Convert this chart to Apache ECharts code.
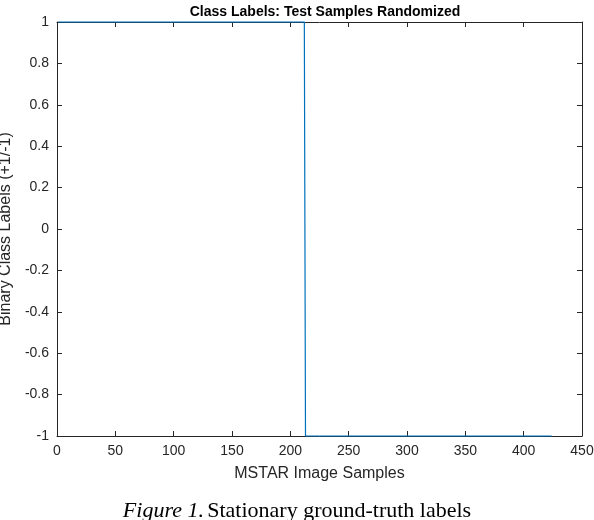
<!DOCTYPE html>
<html><head><meta charset="utf-8">
<script src="https://cdn.jsdelivr.net/npm/echarts@6/dist/echarts.min.js"></script>
<style>html,body{margin:0;padding:0;background:#fff}#c{width:594px;height:520px}</style>
</head><body><div id="c"></div>
<script>
const sampleIdx = [1, 212, 213, 424];
const classLabel = [1, 1, -1, -1];
const xTicks = [0,50,100,150,200,250,300,350,400,450];
const yTicks = [-1,-0.8,-0.6,-0.4,-0.2,0,0.2,0.4,0.6,0.8,1];

const chart = echarts.init(document.getElementById('c'));
const axisCommon = {
  axisLine:{show:true,onZero:false,lineStyle:{color:'#262626',width:1}},
  axisTick:{show:true,inside:true,length:5,lineStyle:{color:'#262626'}},
  splitLine:{show:false}
};
chart.setOption({
  animation:false,
  title:{text:'Class Labels: Test Samples Randomized',left:320,top:0,textAlign:'center',
    textStyle:{fontFamily:'Liberation Sans, Arial',fontSize:14,fontWeight:'bold',color:'#000'}},
  grid:{left:57,right:12,top:22,bottom:84,containLabel:false,outerBoundsMode:'none'},
  xAxis:[
    Object.assign({type:'value',min:0,max:450,interval:50,position:'bottom',
      name:'MSTAR Image Samples',nameLocation:'middle',nameGap:30,
      nameTextStyle:{fontFamily:'Liberation Sans, Arial',fontSize:16,color:'#262626'},
      axisLabel:{fontFamily:'Liberation Sans, Arial',fontSize:14,color:'#262626',margin:8,
        formatter:v=>xTicks.includes(v)?String(v):''}},axisCommon),
    Object.assign({type:'value',min:0,max:450,interval:50,position:'top',axisLabel:{show:false}},axisCommon)
  ],
  yAxis:[
    Object.assign({type:'value',min:-1,max:1,interval:0.2,position:'left',
      name:'Binary Class Labels (+1/-1)',nameLocation:'middle',nameGap:42,
      nameTextStyle:{fontFamily:'Liberation Sans, Arial',fontSize:16,color:'#262626'},
      axisLabel:{fontFamily:'Liberation Sans, Arial',fontSize:14,color:'#262626',margin:8,
        formatter:v=>{const r=Math.round(v*10)/10;return yTicks.includes(r)?String(r):'';}}},axisCommon),
    Object.assign({type:'value',min:-1,max:1,interval:0.2,position:'right',axisLabel:{show:false}},axisCommon)
  ],
  series:[{type:'line',symbol:'none',data:sampleIdx.map((x,i)=>[x,classLabel[i]]),
    lineStyle:{color:'#0072BD',width:1.2},clip:false}],
  graphic:[{type:'text',left:'center',top:500,style:{
    rich:{i:{fontFamily:'Liberation Serif',fontStyle:'italic',fontSize:22,fill:'#000'},
          n:{fontFamily:'Liberation Serif',fontSize:22,fill:'#000'}},
    text:'{i|Figure 1.} {n|Stationary ground-truth labels}'}}]
});
</script></body></html>
